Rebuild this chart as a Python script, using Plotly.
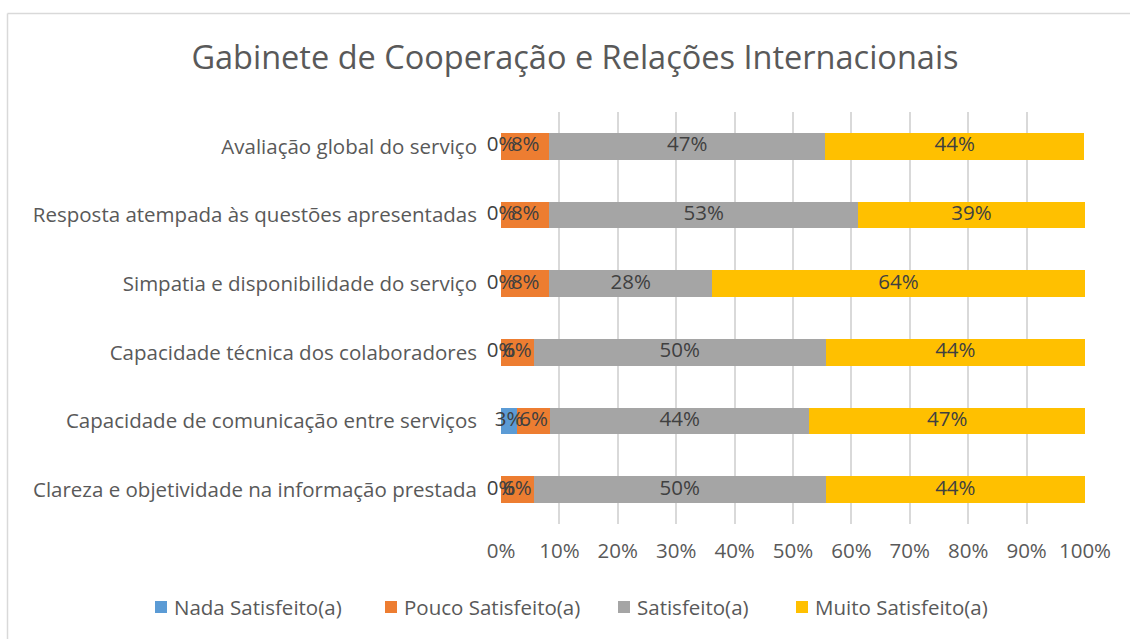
import plotly.graph_objects as go

categories = [
    "Avaliação global do serviço",
    "Resposta atempada às questões apresentadas",
    "Simpatia e disponibilidade do serviço",
    "Capacidade técnica dos colaboradores",
    "Capacidade de comunicação entre serviços",
    "Clareza e objetividade na informação prestada",
]
series_names = ["Nada Satisfeito(a)", "Pouco Satisfeito(a)", "Satisfeito(a)", "Muito Satisfeito(a)"]
nada = [0.0, 0.0, 0.0, 0.0, 2.8, 0.0]
pouco = [8.3, 8.3, 8.3, 5.6, 5.6, 5.6]
satisfeito = [47.2, 52.8, 27.8, 50.0, 44.4, 50.0]
muito = [44.4, 38.9, 63.9, 44.4, 47.2, 44.4]
colors = ["#5B9BD5", "#ED7D31", "#A5A5A5", "#FFC000"]
tick_vals = [0, 10, 20, 30, 40, 50, 60, 70, 80, 90, 100]
tick_text = [f"{v}%" for v in tick_vals]

W, H = 1130, 639
L, R, T, B = 501, 45, 112, 115
pw, ph = W - L - R, H - T - B

FONT = "Open Sans"
FS = 20.5
fig = go.Figure()
all_series = [nada, pouco, satisfeito, muito]
for name, vals, c in zip(series_names, all_series, colors):
    fig.add_trace(go.Bar(y=categories, x=vals, name=name, orientation="h",
                         marker=dict(color=c, line=dict(width=0)), showlegend=False))

# labels at segment centres
lx, ly, lt = [], [], []
for i, cat in enumerate(categories):
    cum = 0
    for vals in all_series:
        v = vals[i]
        lx.append(cum + v / 2)
        ly.append(cat)
        lt.append(f"{round(v):.0f}%")
        cum += v
fig.add_trace(go.Scatter(x=lx, y=ly, mode="text", text=lt, showlegend=False,
                         textfont=dict(family=FONT, size=FS, color="#404040"),
                         hoverinfo="skip", cliponaxis=False))

def px2x(px):
    return (px - L) / pw

def py2y(py):
    return (H - B - py) / ph

# chart-area border (top and left edges visible)
fig.add_shape(type="line", xref="paper", yref="paper", x0=px2x(7.5), x1=px2x(1135),
              y0=py2y(13.5), y1=py2y(13.5), line=dict(color="#D9D9D9", width=1.5))
fig.add_shape(type="line", xref="paper", yref="paper", x0=px2x(7.5), x1=px2x(7.5),
              y0=py2y(13.5), y1=py2y(645), line=dict(color="#D9D9D9", width=1.5))

# legend drawn manually
legend_x = [155, 385, 618, 796]
legend_y = 607
for name, c, lxp in zip(series_names, colors, legend_x):
    fig.add_shape(type="rect", xref="paper", yref="paper",
                  x0=px2x(lxp), x1=px2x(lxp + 12), y0=py2y(legend_y - 6), y1=py2y(legend_y + 6),
                  fillcolor=c, line=dict(width=0))
    fig.add_annotation(xref="paper", yref="paper", x=px2x(lxp + 17), y=py2y(legend_y),
                       xanchor="left", yanchor="middle", text=name, showarrow=False,
                       font=dict(family=FONT, size=FS, color="#595959"))

fig.update_layout(
    width=W, height=H,
    margin=dict(l=L, r=R, t=T, b=B),
    barmode="stack", bargap=0.607,
    plot_bgcolor="white", paper_bgcolor="white",
    title=dict(text="Gabinete de Cooperação e Relações Internacionais",
               x=575 / W, xanchor="center", y=1 - 58 / H, yanchor="middle",
               font=dict(family=FONT, size=32.5, color="#595959")),
    xaxis=dict(range=[0, 100], tickvals=tick_vals, ticktext=tick_text,
               showgrid=True, gridcolor="#D9D9D9", gridwidth=1.5,
               zeroline=False, showline=False, ticks="", ticklabelstandoff=12,
               tickfont=dict(family=FONT, size=FS, color="#595959")),
    yaxis=dict(autorange="reversed", showgrid=False, zeroline=False, showline=False,
               ticks="", ticklabelstandoff=23,
               tickfont=dict(family=FONT, size=FS, color="#595959")),
    showlegend=False,
)
fig.write_html("out.html", config={"displayModeBar": False},
               post_script="document.body.style.margin='0';")
